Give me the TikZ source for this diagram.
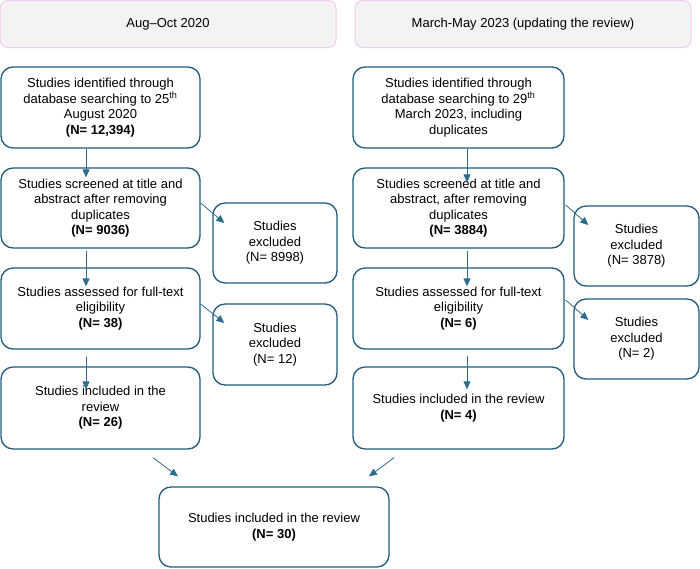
\documentclass[tikz,border=0pt]{standalone}
\usepackage{fontspec}
\setmainfont{Liberation Sans}
\usetikzlibrary{arrows.meta,calc}
\definecolor{boxc}{HTML}{1F5B7A}
\definecolor{arrc}{HTML}{2A6D8E}
\definecolor{hdrfill}{HTML}{F3F3F3}
\definecolor{hdrdraw}{HTML}{F2CBEC}
\tikzset{
  box/.style={draw=boxc, line width=1.3pt, rounded corners=12pt, align=center, inner sep=0pt,
    font=\fontsize{13}{15.5}\selectfont},
  hdr/.style={draw=hdrdraw, fill=hdrfill, line width=1pt, rounded corners=8pt, align=center,
    minimum width=336pt, minimum height=47pt, inner sep=0pt, font=\fontsize{13}{15.5}\selectfont},
  arr/.style={draw=arrc, line width=0.8pt, -{Triangle[length=8pt,width=7pt]}}
}
\begin{document}
\begin{tikzpicture}[x=1pt,y=-1pt]
\useasboundingbox (0,0) rectangle (700,568);
% headers
\node[hdr] (HL) at (168,24) {Aug--Oct 2020};
\node[hdr] (HR) at (523,24) {March-May 2023 (updating the review)};
% left column
\node[box, minimum width=199pt, minimum height=81pt] (L1) at (100.5,107.5)
  {Studies identified through\\database searching to 25\textsuperscript{th}\\August 2020\\\textbf{(N= 12,394)}};
\node[box, minimum width=199pt, minimum height=80pt] (L2) at (100.5,208)
  {Studies screened at title and\\abstract after removing\\duplicates\\\textbf{(N= 9036)}};
\node[box, minimum width=124pt, minimum height=80pt] (LX1) at (275,243)
  {Studies\\excluded\\(N= 8998)};
\node[box, minimum width=199pt, minimum height=81pt] (L3) at (100.5,308.5)
  {Studies assessed for full-text\\eligibility\\\textbf{(N= 38)}};
\node[box, minimum width=124pt, minimum height=81pt] (LX2) at (275,344.5)
  {Studies\\excluded\\(N= 12)};
\node[box, minimum width=199pt, minimum height=82pt] (L4) at (100.5,408)
  {Studies included in the\\review\\\textbf{(N= 26)}};
% right column
\node[box, minimum width=211pt, minimum height=81pt] (R1) at (458.5,107.5)
  {Studies identified through\\database searching to 29\textsuperscript{th}\\March 2023, including\\duplicates};
\node[box, minimum width=211pt, minimum height=80pt] (R2) at (458.5,208)
  {Studies screened at title and\\abstract, after removing\\duplicates\\\textbf{(N= 3884)}};
\node[box, minimum width=125pt, minimum height=80pt] (RX1) at (636.5,246)
  {Studies\\excluded\\(N= 3878)};
\node[box, minimum width=211pt, minimum height=81pt] (R3) at (458.5,308.5)
  {Studies assessed for full-text\\eligibility\\\textbf{(N= 6)}};
\node[box, minimum width=125pt, minimum height=80pt] (RX2) at (636.5,339)
  {Studies\\excluded\\(N= 2)};
\node[box, minimum width=211pt, minimum height=82pt] (R4) at (458.5,408)
  {Studies included in the review\\\textbf{(N= 4)}};
% final
\node[box, minimum width=230pt, minimum height=80pt] (F) at (274,527)
  {Studies included in the review\\\textbf{(N= 30)}};
% left arrows
\draw[arr] ($(L1.south)+(-14.5,0)$) -- ($(L2.north)+(-14.5,10)$);
\draw[arr] ($(L2.south)+(-14.5,2)$) -- ($(L3.north)+(-14.5,19)$);
\draw[arr] ($(L3.south)+(-14.5,7)$) -- ($(L4.north)+(-14.5,23)$);
\draw[arr] ($(L2.east)+(0,-5)$) -- ($(LX1.west)+(12,-20)$);
\draw[arr] ($(L3.east)+(0,-4.5)$) -- ($(LX2.west)+(12,-21.5)$);
% right arrows
\draw[arr] ($(R1.south)+(8.5,0)$) -- ($(R2.north)+(8.5,15)$);
\draw[arr] ($(R2.south)+(8.5,2)$) -- ($(R3.north)+(8.5,19)$);
\draw[arr] ($(R3.south)+(8.5,6)$) -- ($(R4.north)+(8.5,23)$);
\draw[arr] ($(R2.east)+(1,-3)$) -- ($(RX1.west)+(15,-21)$);
\draw[arr] ($(R3.east)+(1,-8.5)$) -- ($(RX2.west)+(15,-19)$);
% bottom arrows
\draw[arr] ($(L4.south)+(52.5,8)$) -- ($(F.north)+(-96,-10)$);
\draw[arr] ($(R4.south)+(-64.5,8)$) -- ($(F.north)+(95,-10)$);
\end{tikzpicture}
\end{document}
